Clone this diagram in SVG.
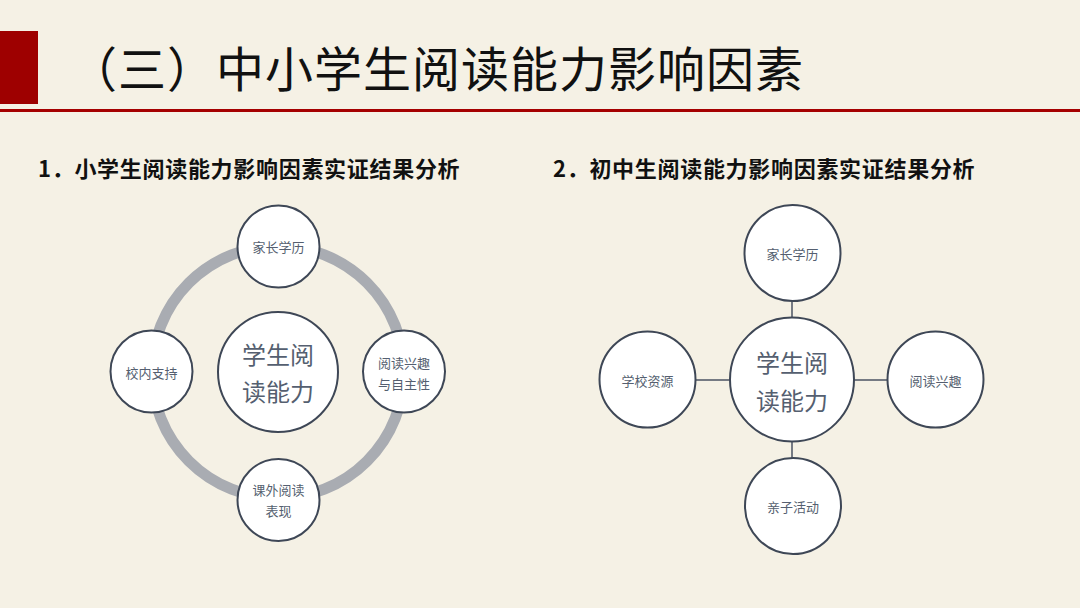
<svg xmlns="http://www.w3.org/2000/svg" width="1080" height="608" viewBox="0 0 1080 608">
<style>
.t{font-family:"Noto Sans CJK SC","Noto Sans",sans-serif;}
.node{fill:#ffffff;stroke:#3e4756;stroke-width:2;}
.lbl{font-family:"Noto Sans CJK SC","Noto Sans",sans-serif;font-size:13px;fill:#555f70;text-anchor:middle;dominant-baseline:central;}
.big{font-family:"Noto Sans CJK SC","Noto Sans",sans-serif;font-size:24px;fill:#555f70;text-anchor:middle;dominant-baseline:central;}
.conn{stroke:#4a5262;stroke-width:1.5;fill:none;}
</style>
<rect width="1080" height="608" fill="#f5f1e5"/>
<rect x="0" y="31" width="38" height="73" fill="#9e0000"/>
<rect x="0" y="109" width="1080" height="3" fill="#a50000"/>
<text class="t" x="69" y="87" font-size="48" letter-spacing="1" fill="#111">（三）中小学生阅读能力影响因素</text>
<text class="t" x="38" y="177" font-size="22" letter-spacing="0.7" font-weight="bold" fill="#111">1．小学生阅读能力影响因素实证结果分析</text>
<text class="t" x="553" y="177" font-size="22" letter-spacing="0.7" font-weight="bold" fill="#111">2．初中生阅读能力影响因素实证结果分析</text>
<g id="connectors">
<circle cx="278" cy="372" r="126" fill="none" stroke="#a9acb2" stroke-width="11"/>
<line class="conn" x1="792" y1="301" x2="792" y2="318"/>
<line class="conn" x1="792" y1="441" x2="792" y2="458"/>
<line class="conn" x1="696" y1="380" x2="730" y2="380"/>
<line class="conn" x1="854" y1="380" x2="888" y2="380"/>
</g>
<g id="l-center"><circle class="node" cx="278" cy="372" r="60"/><text class="big" x="278" y="353">学生阅</text><text class="big" x="278" y="390">读能力</text></g>
<g id="l-top"><circle class="node" cx="278.5" cy="246.5" r="41"/><text class="lbl" x="278.5" y="246">家长学历</text></g>
<g id="l-bottom"><circle class="node" cx="278.5" cy="500" r="41"/><text class="lbl" x="278.5" y="489">课外阅读</text><text class="lbl" x="278.5" y="510">表现</text></g>
<g id="l-left"><circle class="node" cx="151.5" cy="371.5" r="41"/><text class="lbl" x="151.5" y="372">校内支持</text></g>
<g id="l-right"><circle class="node" cx="404" cy="371.5" r="41"/><text class="lbl" x="404" y="362">阅读兴趣</text><text class="lbl" x="404" y="383">与自主性</text></g>
<g id="r-center"><circle class="node" cx="792" cy="379.5" r="62"/><text class="big" x="792" y="361">学生阅</text><text class="big" x="792" y="399">读能力</text></g>
<g id="r-top"><circle class="node" cx="792.5" cy="253" r="48"/><text class="lbl" x="792.5" y="253">家长学历</text></g>
<g id="r-left"><circle class="node" cx="647.5" cy="379.5" r="48"/><text class="lbl" x="647.5" y="380">学校资源</text></g>
<g id="r-right"><circle class="node" cx="935.5" cy="379.5" r="48"/><text class="lbl" x="935.5" y="380">阅读兴趣</text></g>
<g id="r-bottom"><circle class="node" cx="793" cy="506" r="48"/><text class="lbl" x="793" y="506">亲子活动</text></g>
</svg>
